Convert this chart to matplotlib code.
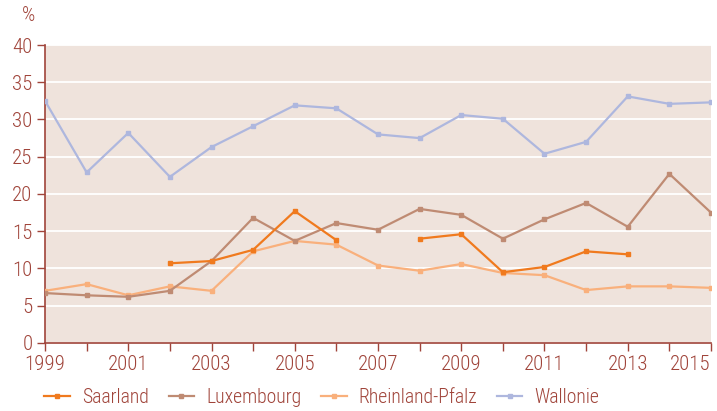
import matplotlib
matplotlib.use("Agg")
import matplotlib.pyplot as plt
import numpy as np

plt.rcParams["font.family"] = ["Roboto Condensed", "DejaVu Sans"]
plt.rcParams["font.weight"] = "light"

years = list(range(1999, 2016))
nan = np.nan
saarland = [nan, nan, nan, 10.7, 11.0, 12.5, 17.7, 13.8, nan, 14.0, 14.6, 9.5, 10.2, 12.3, 11.9, nan, nan]
luxembourg = [6.7, 6.4, 6.2, 7.0, 11.0, 16.8, 13.7, 16.1, 15.2, 18.0, 17.2, 14.0, 16.6, 18.8, 15.6, 22.7, 17.5]
rheinland = [7.0, 7.9, 6.4, 7.6, 7.0, 12.3, 13.7, 13.2, 10.4, 9.7, 10.6, 9.4, 9.1, 7.1, 7.6, 7.6, 7.4]
wallonie = [32.5, 22.9, 28.2, 22.3, 26.3, 29.1, 31.9, 31.5, 28.0, 27.5, 30.6, 30.1, 25.4, 27.0, 33.1, 32.1, 32.3]

series = [
    ("Saarland", saarland, "#F07A1E"),
    ("Luxembourg", luxembourg, "#BF8B73"),
    ("Rheinland-Pfalz", rheinland, "#F9B07C"),
    ("Wallonie", wallonie, "#AEB7DE"),
]

text_color = "#A0443A"
bg = "#EFE3DC"

fig = plt.figure(figsize=(7.17, 4.11), dpi=100)
ax = fig.add_axes([0.0628, 0.1655, 0.9288, 0.725])
ax.set_facecolor(bg)

# Saarland drawn last so it sits on top
for name, vals, color in series[::-1]:
    ax.plot(years, vals, color=color, linewidth=1.6, marker="s", markersize=3.5,
            label=name, zorder=4 if name == "Saarland" else 3)

ax.set_xlim(1999, 2015)
ax.set_ylim(0, 40)
ax.set_yticks(range(0, 41, 5))
ax.set_xticks(years)
ax.set_xticklabels([str(y) if (y - 1999) % 2 == 0 else "" for y in years])
ax.yaxis.grid(True, color="white", linewidth=1.3)
ax.set_axisbelow(True)

for s in ["top", "right"]:
    ax.spines[s].set_visible(False)
for s in ["left", "bottom"]:
    ax.spines[s].set_color(text_color)
    ax.spines[s].set_linewidth(1.2)
ax.tick_params(colors=text_color, labelsize=15, length=6, width=1, direction="out", pad=3)
# last year label sits flush against the right edge
ax.get_xticklabels()[-1].set_horizontalalignment("right")

fig.text(0.040, 0.962, "%", color=text_color, fontsize=15, va="center", ha="center")

handles, labels = ax.get_legend_handles_labels()
leg = fig.legend(handles[::-1], labels[::-1], loc="center left", bbox_to_anchor=(0.062, 0.033),
                 ncol=4, frameon=False, fontsize=14.2, handlelength=1.3, columnspacing=1.0,
                 handletextpad=0.6, borderaxespad=0, borderpad=0)
for t in leg.get_texts():
    t.set_color(text_color)

fig.savefig("out.png", dpi=100, facecolor="white")
